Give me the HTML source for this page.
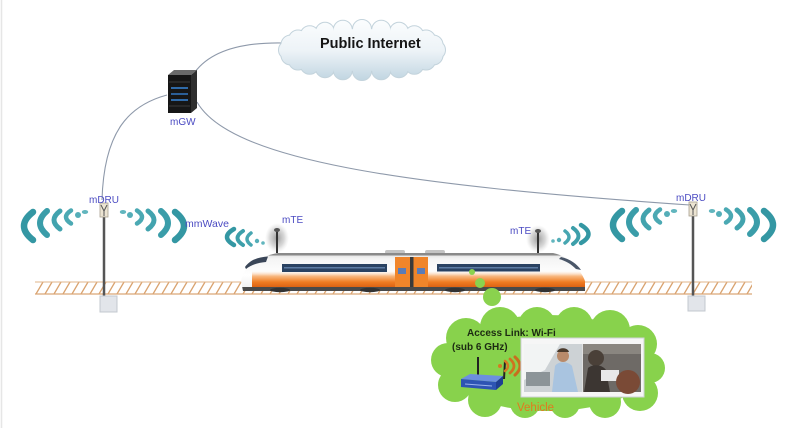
<!DOCTYPE html>
<html><head><meta charset="utf-8"><style>
html,body{margin:0;padding:0;background:#fff;}
svg{display:block;}
text{font-family:"Liberation Sans",sans-serif;}
</style></head><body>
<svg width="800" height="428" viewBox="0 0 800 428" xmlns="http://www.w3.org/2000/svg">
<defs>
  <linearGradient id="cloudG" x1="0" y1="20" x2="0" y2="82" gradientUnits="userSpaceOnUse">
    <stop offset="0" stop-color="#fbfdfe"/>
    <stop offset="0.5" stop-color="#edf3f7"/>
    <stop offset="1" stop-color="#bed4e0"/>
  </linearGradient>
  <linearGradient id="bodyG" x1="0" y1="253" x2="0" y2="290" gradientUnits="userSpaceOnUse">
    <stop offset="0" stop-color="#d8d8d8"/>
    <stop offset="0.15" stop-color="#f4f4f4"/>
    <stop offset="0.6" stop-color="#ffffff"/>
    <stop offset="1" stop-color="#eeeeee"/>
  </linearGradient>
  <linearGradient id="orG" x1="0" y1="271" x2="0" y2="288" gradientUnits="userSpaceOnUse">
    <stop offset="0" stop-color="#fbe0c8" stop-opacity="0"/>
    <stop offset="0.3" stop-color="#f8b880"/>
    <stop offset="0.65" stop-color="#f07c22"/>
    <stop offset="1" stop-color="#d85e10"/>
  </linearGradient>
  <radialGradient id="glow" cx="0.5" cy="0.5" r="0.5">
    <stop offset="0" stop-color="#8a8a8a" stop-opacity="0.85"/>
    <stop offset="0.6" stop-color="#b0b0b0" stop-opacity="0.5"/>
    <stop offset="1" stop-color="#d0d0d0" stop-opacity="0"/>
  </radialGradient>
  <pattern id="hatch" x="35" y="282" width="9" height="12" patternUnits="userSpaceOnUse">
    <line x1="1" y1="12" x2="8" y2="0" stroke="#d9a26e" stroke-width="1.3"/>
  </pattern>
  <clipPath id="bodyClip">
    <path d="M241,281 C243,268 256,257 278,253 L553,253 C568,256 580,268 585,281 L585,291 L243,291 Z"/>
  </clipPath>
  <g id="waves">
    <path d="M33,212 Q15,226 33,240" fill="none" stroke="#3497a3" stroke-width="6.5" stroke-linecap="round"/>
    <path d="M47,211 Q33,223 47,235" fill="none" stroke="#3a9da9" stroke-width="6" stroke-linecap="round"/>
    <path d="M60,211 Q48,220 60,229" fill="none" stroke="#42a3ae" stroke-width="5" stroke-linecap="round"/>
    <path d="M71,210.5 Q61,217 71,223.5" fill="none" stroke="#4ba9b3" stroke-width="4.5" stroke-linecap="round"/>
    <circle cx="78" cy="215" r="3" fill="#55aeb8"/>
    <ellipse cx="85" cy="212" rx="3.2" ry="2" fill="#62b6be"/>
  </g>
  <g id="pcloud">
    <ellipse cx="362" cy="50" rx="74" ry="21"/>
    <circle cx="436" cy="50" r="9"/>
    <circle cx="433.5" cy="44.6" r="9"/>
    <circle cx="426" cy="39.5" r="9"/>
    <circle cx="414.3" cy="35.2" r="9"/>
    <circle cx="399" cy="31.8" r="9"/>
    <circle cx="381.2" cy="29.7" r="9"/>
    <circle cx="362" cy="29" r="9"/>
    <circle cx="342.8" cy="29.7" r="9"/>
    <circle cx="325" cy="31.8" r="9"/>
    <circle cx="309.7" cy="35.2" r="9"/>
    <circle cx="298" cy="39.5" r="9"/>
    <circle cx="290.5" cy="44.6" r="9"/>
    <circle cx="288" cy="50" r="9"/>
    <circle cx="290.5" cy="55.4" r="9"/>
    <circle cx="298" cy="60.5" r="9"/>
    <circle cx="309.7" cy="64.8" r="9"/>
    <circle cx="325" cy="68.2" r="9"/>
    <circle cx="342.8" cy="70.3" r="9"/>
    <circle cx="362" cy="71" r="9"/>
    <circle cx="381.2" cy="70.3" r="9"/>
    <circle cx="399" cy="68.2" r="9"/>
    <circle cx="414.3" cy="64.8" r="9"/>
    <circle cx="426" cy="60.5" r="9"/>
    <circle cx="433.5" cy="55.4" r="9"/>
  </g>
</defs>

<!-- faint left border -->
<line x1="1.5" y1="0" x2="1.5" y2="428" stroke="#e6e6e6" stroke-width="1.5"/>

<!-- connector lines -->
<g fill="none" stroke="#8e99aa" stroke-width="1.1">
  <path d="M195,72 C210,52 240,42 284,43"/>
  <path d="M167,95 C130,105 104,130 102,200"/>
  <path d="M197,102 C230,160 400,185 690,205"/>
</g>

<!-- Public Internet cloud -->
<use href="#pcloud" fill="url(#cloudG)" stroke="#c3d3dc" stroke-width="2"/>
<use href="#pcloud" fill="url(#cloudG)"/>
<text x="320" y="48" font-size="14.5" font-weight="bold" fill="#151515">Public Internet</text>

<!-- mGW server -->
<polygon points="168,75 174,70 197,70 191,75" fill="#6a6a6a"/>
<polygon points="191,75 197,70 197,108 191,113" fill="#2e2e2e"/>
<rect x="168" y="75" width="23" height="38" fill="#161616"/>
<g stroke="#3a3a3a" stroke-width="1">
  <line x1="169" y1="82" x2="190" y2="82"/>
  <line x1="169" y1="106" x2="190" y2="106"/>
</g>
<rect x="171" y="87" width="17" height="2" fill="#2f6aa8"/>
<rect x="171" y="93" width="17" height="2" fill="#2b5f98"/>
<rect x="171" y="99" width="17" height="2" fill="#2f6aa8"/>
<text x="170" y="125" font-size="10" fill="#4b4bc2">mGW</text>

<!-- track -->
<rect x="35" y="282" width="717" height="12" fill="url(#hatch)"/>
<line x1="35" y1="282" x2="752" y2="282" stroke="#e0b48a" stroke-width="1"/>
<line x1="35" y1="294" x2="752" y2="294" stroke="#dba677" stroke-width="1.2"/>

<!-- left mDRU -->
<use href="#waves"/>
<use href="#waves" transform="translate(208,0) scale(-1,1)"/>
<line x1="104" y1="212" x2="104" y2="298" stroke="#555" stroke-width="2.5"/>
<rect x="100" y="203" width="8" height="14" fill="#ece4d2" stroke="#a8a090" stroke-width="0.8"/>
<path d="M101,205 L104,211 L107,205 M104,211 L104,216" stroke="#555" stroke-width="1" fill="none"/>
<rect x="100" y="296" width="17" height="16" fill="#e2e5ea" stroke="#c3c8cf" stroke-width="1"/>
<text x="89" y="203" font-size="10" fill="#4b4bc2">mDRU</text>

<!-- right mDRU -->
<g transform="translate(589,-1)">
  <use href="#waves"/>
  <use href="#waves" transform="translate(208,0) scale(-1,1)"/>
  <line x1="104" y1="212" x2="104" y2="299" stroke="#555" stroke-width="2.5"/>
  <rect x="100" y="203" width="8" height="14" fill="#ece4d2" stroke="#a8a090" stroke-width="0.8"/>
  <path d="M101,205 L104,211 L107,205 M104,211 L104,216" stroke="#555" stroke-width="1" fill="none"/>
  <rect x="99" y="297" width="17" height="15" fill="#e2e5ea" stroke="#c3c8cf" stroke-width="1"/>
</g>
<text x="676" y="201" font-size="10" fill="#4b4bc2">mDRU</text>

<!-- mmWave label -->
<text x="185" y="227" font-size="10.5" fill="#4b4bc2">mmWave</text>

<!-- mTE left waves -->
<path d="M234,229 Q220,237 234,245" fill="none" stroke="#3497a3" stroke-width="4.5" stroke-linecap="round"/>
<path d="M243,231 Q232,238 243,245" fill="none" stroke="#3d9faa" stroke-width="4" stroke-linecap="round"/>
<path d="M251,233 Q243,239 251,245" fill="none" stroke="#47a6b1" stroke-width="3.5" stroke-linecap="round"/>
<circle cx="257" cy="241" r="2.2" fill="#55aeb8"/>
<circle cx="263" cy="243" r="1.8" fill="#62b6be"/>

<!-- mTE right waves -->
<circle cx="553" cy="241" r="1.8" fill="#62b6be"/>
<circle cx="559" cy="240" r="2.2" fill="#55aeb8"/>
<path d="M565,231 Q573,237 565,243" fill="none" stroke="#47a6b1" stroke-width="3.5" stroke-linecap="round"/>
<path d="M573,228 Q584,236 573,244" fill="none" stroke="#3d9faa" stroke-width="4" stroke-linecap="round"/>
<path d="M581,225 Q596,234 581,243" fill="none" stroke="#3497a3" stroke-width="4.5" stroke-linecap="round"/>

<!-- mTE antennas with glow -->
<ellipse cx="277" cy="238" rx="12" ry="15" fill="url(#glow)"/>
<line x1="277" y1="230" x2="277" y2="253" stroke="#333" stroke-width="2"/>
<ellipse cx="277" cy="230" rx="3" ry="2" fill="#555"/>
<ellipse cx="538" cy="239" rx="12" ry="14" fill="url(#glow)"/>
<line x1="538" y1="231" x2="538" y2="253" stroke="#333" stroke-width="2"/>
<ellipse cx="538" cy="231" rx="3" ry="2" fill="#555"/>
<text x="282" y="223" font-size="10" fill="#4b4bc2">mTE</text>
<text x="510" y="234" font-size="10" fill="#4b4bc2">mTE</text>

<!-- train -->
<rect x="385" y="250" width="20" height="4" rx="2" fill="#c4c4c4"/>
<rect x="425" y="250" width="20" height="4" rx="2" fill="#c4c4c4"/>
<path d="M241,281 C243,268 256,257 278,253 L553,253 C568,256 580,268 585,281 L585,291 L243,291 Z" fill="url(#bodyG)"/>
<g clip-path="url(#bodyClip)">
  <rect x="252" y="271" width="335" height="17" fill="url(#orG)"/>
  <rect x="240" y="253" width="350" height="2.5" fill="#8a8a8a"/>
  <rect x="240" y="287" width="350" height="5" fill="#4a4a4a"/>
</g>
<g fill="#333">
  <ellipse cx="280" cy="290" rx="10" ry="2.2"/>
  <ellipse cx="370" cy="290" rx="10" ry="2.2"/>
  <ellipse cx="455" cy="290" rx="10" ry="2.2"/>
  <ellipse cx="545" cy="290" rx="10" ry="2.2"/>
</g>
<path d="M245,267 C250,260 258,257 268,256.5 L266,262 C258,262.5 251,265 246,269 Z" fill="#3a4658"/>
<path d="M561,257 C570,259 577,264 581,270 L576,269 C571,264 566,261 559,259 Z" fill="#4a5668"/>
<rect x="282" y="264" width="105" height="8" fill="#2a4262"/>
<rect x="284" y="267" width="101" height="1.5" fill="#5d7ca4"/>
<rect x="437" y="264" width="103" height="7.5" fill="#2a4262"/>
<rect x="439" y="267" width="99" height="1.5" fill="#5d7ca4"/>
<rect x="395" y="257" width="33" height="30" fill="#f0852a"/>
<rect x="410" y="257" width="3.5" height="30" fill="#3a3a3a"/>
<rect x="398" y="268" width="8" height="6" fill="#5a7cb8"/>
<rect x="417" y="268" width="8" height="6" fill="#5a7cb8"/>

<!-- green connector dots -->
<circle cx="472" cy="272" r="3" fill="#8ad24e"/>
<circle cx="480" cy="283" r="5" fill="#8ad24e"/>
<circle cx="492" cy="297" r="9" fill="#8ad24e"/>

<!-- green cloud -->
<g fill="#88d24c">
  <ellipse cx="548" cy="363" rx="108" ry="48"/>
  <circle cx="466" cy="338" r="20"/>
  <circle cx="500" cy="327" r="20"/>
  <circle cx="537" cy="326" r="19"/>
  <circle cx="574" cy="326" r="19"/>
  <circle cx="610" cy="330" r="20"/>
  <circle cx="638" cy="344" r="19"/>
  <circle cx="650" cy="368" r="15"/>
  <circle cx="640" cy="393" r="18"/>
  <circle cx="605" cy="402" r="16"/>
  <circle cx="565" cy="403" r="15"/>
  <circle cx="525" cy="403" r="15"/>
  <circle cx="485" cy="400" r="17"/>
  <circle cx="455" cy="385" r="17"/>
  <circle cx="448" cy="360" r="17"/>
</g>

<text x="467" y="336" font-size="10" font-weight="bold" fill="#1c2a12">Access Link: Wi-Fi</text>
<text x="452" y="350" font-size="10" font-weight="bold" fill="#1c2a12">(sub 6 GHz)</text>

<!-- router -->
<line x1="478" y1="377" x2="478" y2="357" stroke="#222" stroke-width="2"/>
<line x1="504" y1="379" x2="505" y2="361" stroke="#222" stroke-width="2"/>
<polygon points="461,379 470,374 503,376 496,382" fill="#6c8fe0"/>
<polygon points="461,379 496,382 496,390 461,387" fill="#2e54b4"/>
<polygon points="496,382 503,376 503,384 496,390" fill="#1f3f92"/>
<line x1="465" y1="384" x2="492" y2="386" stroke="#9ab4ee" stroke-width="1"/>

<!-- wifi waves -->
<circle cx="500" cy="366" r="2" fill="#d67a22"/>
<path d="M505,361 Q511,366 505,371" fill="none" stroke="#d67a22" stroke-width="2.5" stroke-linecap="round"/>
<path d="M510,359 Q518,366 510,373" fill="none" stroke="#cf7420" stroke-width="2.8" stroke-linecap="round"/>
<path d="M515,357 Q525,366 515,375" fill="none" stroke="#c86e1e" stroke-width="3" stroke-linecap="round"/>

<!-- vehicle photo -->
<rect x="521" y="338" width="123" height="59" fill="#f6f6f6" stroke="#cfd3d6" stroke-width="1"/>
<rect x="524" y="344" width="58" height="48" fill="#cdd2d5"/>
<polygon points="524,344 560,344 545,370 524,380" fill="#f2f4f4"/>
<rect x="526" y="372" width="24" height="14" fill="#8c9498"/>
<path d="M552,392 L555,366 C558,361 568,361 572,366 L578,392 Z" fill="#a9c4e0"/>
<circle cx="563" cy="356" r="6" fill="#b88a6a"/>
<path d="M557,352 C558,347 568,347 569,352 Z" fill="#4a3a2c"/>
<rect x="583" y="344" width="58" height="48" fill="#6e6a66"/>
<rect x="583" y="344" width="58" height="10" fill="#8a8680"/>
<circle cx="596" cy="358" r="8" fill="#4a4038"/>
<path d="M584,392 L588,368 C592,364 602,364 606,370 L610,392 Z" fill="#3c3632"/>
<rect x="601" y="370" width="18" height="11" fill="#e8e8e8"/>
<circle cx="628" cy="382" r="12" fill="#7a4a36"/>
<line x1="582.5" y1="344" x2="582.5" y2="392" stroke="#e0e0e0" stroke-width="1"/>

<text x="517" y="411" font-size="11.5" fill="#e07a1e">Vehicle</text>
</svg>
</body></html>
